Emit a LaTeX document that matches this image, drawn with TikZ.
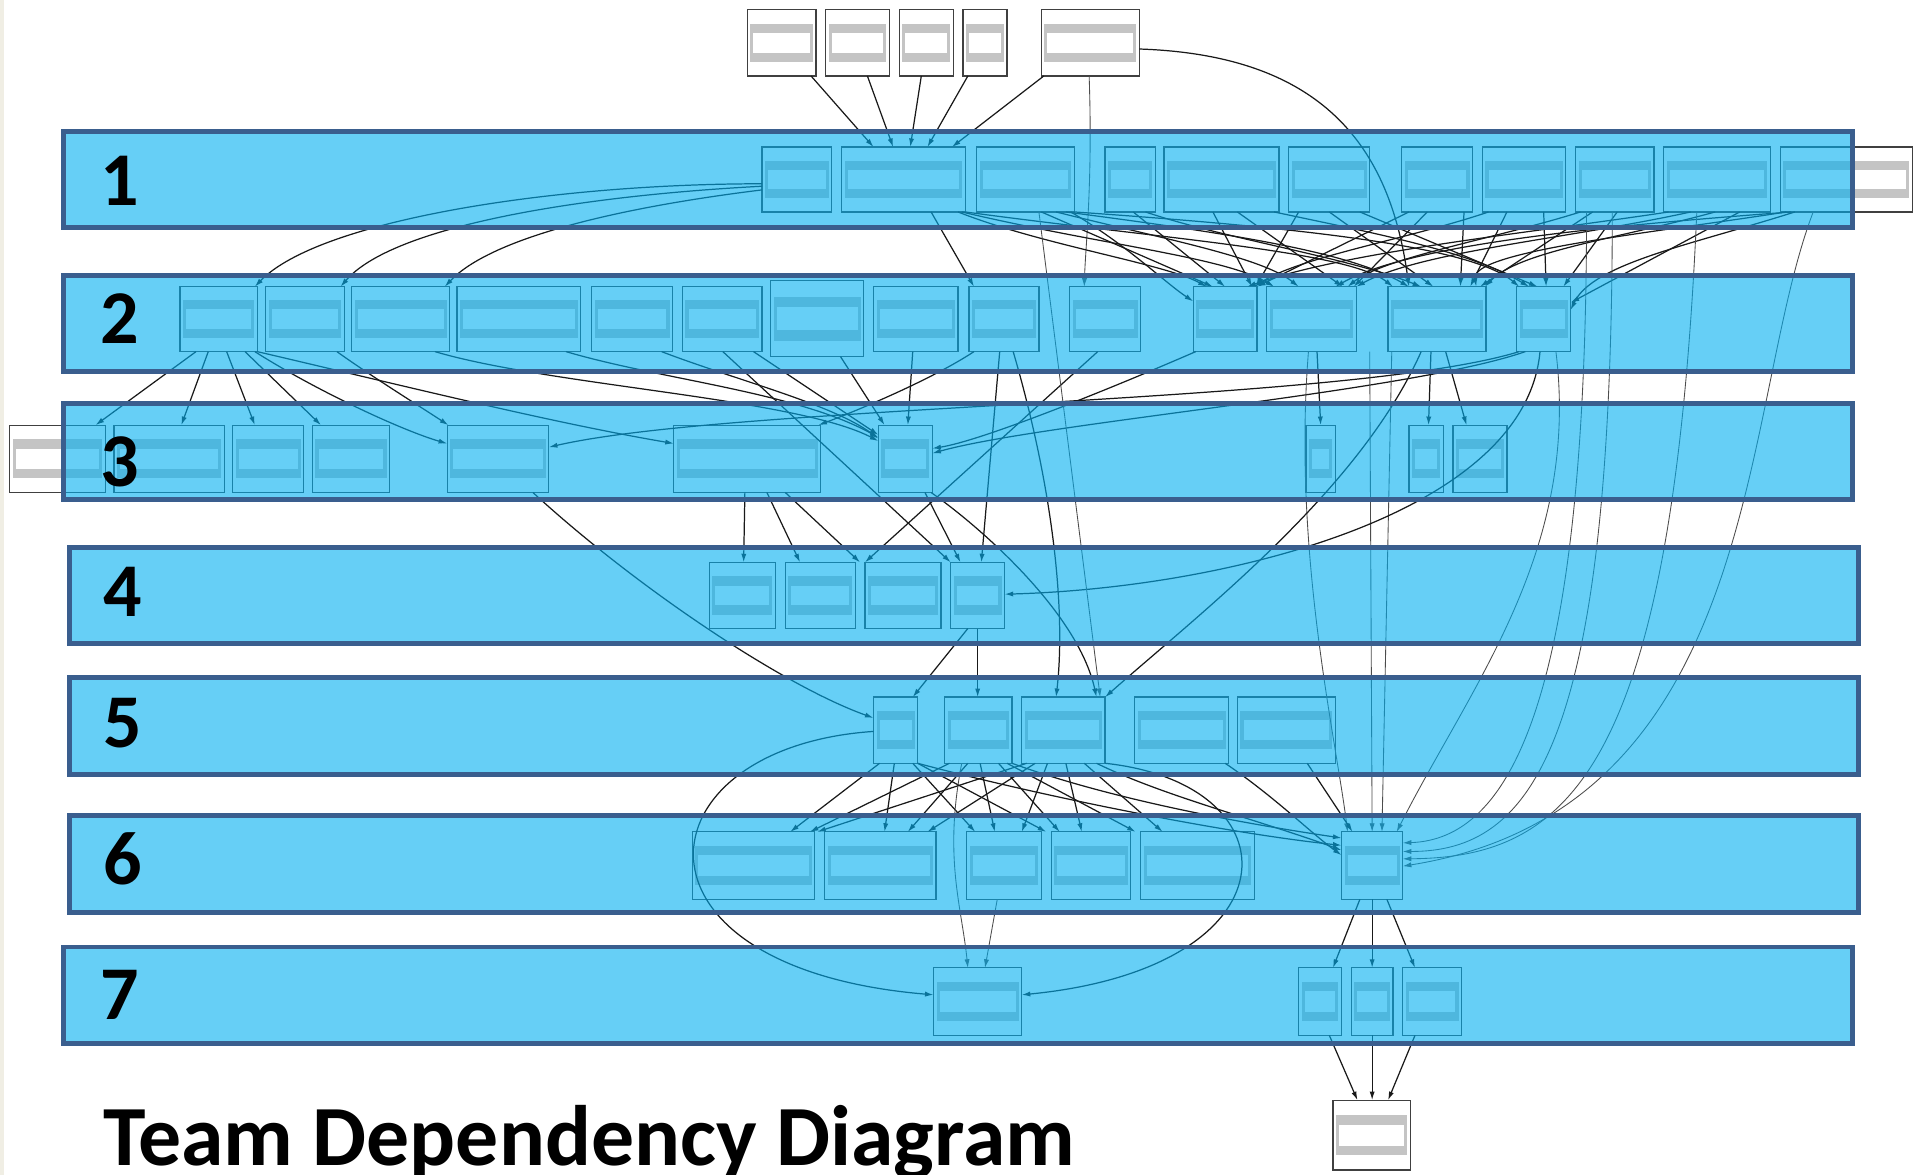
\documentclass[tikz,border=0pt]{standalone}
\usepackage{fontspec}
\setmainfont{Carlito}
\usetikzlibrary{arrows.meta,calc}
\definecolor{bandfill}{RGB}{0,175,240}
\definecolor{bandline}{RGB}{58,94,142}
\definecolor{barg}{RGB}{196,196,196}
\definecolor{leftstrip}{RGB}{240,238,228}
\tikzset{
 tbox/.style={draw=black!75, line width=1pt, fill=white, inner sep=0pt, outer sep=0pt, rectangle},
 band/.style={draw=bandline, line width=4pt, fill=bandfill, fill opacity=0.6, draw opacity=1, inner sep=0pt, outer sep=0pt, rectangle},
 dep/.style={draw=black!90, line width=1pt, -{Latex[length=7pt,width=4.2pt]}},
 depl/.style={draw=black!70, line width=0.7pt, -{Latex[length=7pt,width=4.2pt]}},
 num/.style={font=\fontsize{62}{62}\selectfont\bfseries, inner sep=0pt, anchor=west, text=black},
 ttl/.style={font=\fontsize{70}{70}\selectfont\bfseries, inner sep=0pt, anchor=base west, text=black}
}
\newcommand\mknode[5]{%
  \node[tbox, minimum width={(#3-(#2))*1pt}, minimum height={(#5-(#4))*1pt}] (#1) at ({(#2+#3)/2},{(#4+#5)/2}) {};
  \fill[barg] ({#2+2.5},{#4+0.21*(#5-#4)}) rectangle ({#3-2.5},{#5-0.21*(#5-#4)});
  \fill[white] ({#2+5},{#4+0.35*(#5-#4)}) rectangle ({#3-5},{#5-0.35*(#5-#4)});
}
\newcommand\mkband[5]{%
  \node[band, minimum width={(#3-(#2))*1pt}, minimum height={(#5-(#4))*1pt}] (#1) at ({(#2+#3)/2},{(#4+#5)/2}) {};
}
\begin{document}
\begin{tikzpicture}[x=1pt,y=-1pt]
\useasboundingbox (0,0) rectangle (1568,959);
\fill[white] (0,0) rectangle (1568,959);
\fill[leftstrip] (0,0) rectangle (3,959);
% top nodes
\mknode{t1}{610}{666}{8}{62}
\mknode{t2}{674}{726}{8}{62}
\mknode{t3}{734}{778}{8}{62}
\mknode{t4}{786}{822}{8}{62}
\mknode{t5}{850}{930}{8}{62}
% band 1 nodes
\mknode{a1}{622}{679}{120}{173}
\mknode{b1}{687}{788}{120}{173}
\mknode{c1}{797}{877}{120}{173}
\mknode{d1}{902}{943}{120}{173}
\mknode{e1}{950}{1044}{120}{173}
\mknode{f1}{1052}{1118}{120}{173}
\mknode{g1}{1144}{1202}{120}{173}
\mknode{h1}{1210}{1278}{120}{173}
\mknode{i1}{1286}{1350}{120}{173}
\mknode{j1}{1358}{1445}{120}{173}
\mknode{k1}{1453}{1561}{120}{173}
% band 2 nodes
\mknode{a2}{147}{210}{234}{287}
\mknode{b2}{217}{281}{234}{287}
\mknode{c2}{287}{367}{234}{287}
\mknode{d2}{373}{474}{234}{287}
\mknode{e2}{483}{549}{234}{287}
\mknode{f2}{557}{622}{234}{287}
\mknode{g2}{629}{705}{229}{291}
\mknode{h2}{713}{782}{234}{287}
\mknode{i2}{791}{848}{234}{287}
\mknode{j2}{873}{931}{234}{287}
\mknode{k2}{974}{1026}{234}{287}
\mknode{l2}{1034}{1107}{234}{287}
\mknode{m2}{1133}{1213}{234}{287}
\mknode{n2}{1238}{1282}{234}{287}
% band 3 nodes
\mknode{L3}{8}{86}{347}{402}
\mknode{a3}{93}{183}{347}{402}
\mknode{b3}{190}{248}{347}{402}
\mknode{c3}{255}{318}{347}{402}
\mknode{d3}{365}{448}{347}{402}
\mknode{e3}{550}{670}{347}{402}
\mknode{f3}{717}{761}{347}{402}
\mknode{g3}{1066}{1090}{347}{402}
\mknode{h3}{1150}{1178}{347}{402}
\mknode{i3}{1186}{1230}{347}{402}
% band 4 nodes
\mknode{a4}{579}{633}{459}{513}
\mknode{b4}{641}{698}{459}{513}
\mknode{c4}{706}{768}{459}{513}
\mknode{d4}{776}{820}{459}{513}
% band 5 nodes
\mknode{a5}{713}{749}{569}{623}
\mknode{b5}{771}{826}{569}{623}
\mknode{c5}{834}{902}{569}{623}
\mknode{d5}{926}{1003}{569}{623}
\mknode{e5}{1010}{1090}{569}{623}
% band 6 nodes
\mknode{a6}{565}{665}{679}{734}
\mknode{b6}{673}{764}{679}{734}
\mknode{c6}{789}{850}{679}{734}
\mknode{d6}{858}{923}{679}{734}
\mknode{e6}{931}{1024}{679}{734}
\mknode{f6}{1095}{1145}{679}{734}
% band 7 nodes
\mknode{a7}{762}{834}{790}{845}
\mknode{b7}{1060}{1095}{790}{845}
\mknode{c7}{1103}{1137}{790}{845}
\mknode{d7}{1145}{1193}{790}{845}
% bottom node
\mknode{z}{1088}{1151}{898}{955}

% ---- connectors ----
% top -> band 1
\draw[dep] (t1.south -| 662,0) -- (b1.north -| 713,0);
\draw[dep] (t2.south -| 708,0) -- (b1.north -| 729,0);
\draw[dep] (t3.south -| 752,0) -- (b1.north -| 743,0);
\draw[dep] (t4.south -| 790,0) -- (b1.north -| 757,0);
\draw[dep] (t5.south -| 852,0) -- (b1.north -| 777,0);
\draw[depl] (t5.south -| 889,0) .. controls (892,150) and (886,200) .. (j2.north -| 885,0);
\draw[dep] (t5.east |- 0,40) .. controls (1080,45) and (1135,120) .. (m2.north -| 1150,0);
% a1 -> left band 2
\draw[dep] (a1.west |- 0,150) .. controls (450,150) and (260,180) .. (a2.north -| 208,0);
\draw[dep] (a1.west |- 0,152) .. controls (470,160) and (320,185) .. (b2.north -| 278,0);
\draw[dep] (a1.west |- 0,155) .. controls (500,170) and (400,195) .. (c2.north -| 363,0);
% band 1 -> band 2 cluster
\draw[dep] (b1.south -| 760,0) -- (i2.north -| 795,0);
\draw[dep] (b1.south -| 782,0) .. controls (850,200) and (950,215) .. (k2.north -| 985,0);
\draw[dep] (b1.south -| 785,0) .. controls (900,200) and (1000,210) .. (l2.north -| 1040,0);
\draw[dep] (b1.south -| 788,0) .. controls (950,195) and (1100,205) .. (m2.north -| 1137,0);
\draw[dep] (c1.south -| 850,0) -- (k2.north -| 990,0);
\draw[dep] (c1.south -| 862,0) .. controls (950,195) and (1030,210) .. (l2.north -| 1060,0);
\draw[dep] (c1.south -| 870,0) .. controls (1000,190) and (1100,205) .. (m2.north -| 1150,0);
\draw[dep] (c1.south -| 877,0) .. controls (1050,185) and (1200,200) .. (n2.north -| 1240,0);
\draw[dep] (c1.south -| 874,0) .. controls (920,200) and (950,230) .. (k2.west |- 0,246);
\draw[dep] (d1.south -| 925,0) -- (k2.north -| 1000,0);
\draw[dep] (d1.south -| 935,0) .. controls (1000,195) and (1100,210) .. (m2.north -| 1160,0);
\draw[dep] (e1.south -| 990,0) -- (k2.north -| 1022,0);
\draw[dep] (e1.south -| 1010,0) -- (l2.north -| 1096,0);
\draw[dep] (e1.south -| 1040,0) .. controls (1120,190) and (1200,205) .. (n2.north -| 1248,0);
\draw[dep] (f1.south -| 1060,0) -- (k2.north -| 1025,0);
\draw[dep] (f1.south -| 1085,0) -- (m2.north -| 1170,0);
\draw[dep] (f1.south -| 1110,0) -- (n2.north -| 1255,0);
\draw[dep] (g1.south -| 1150,0) -- (k2.north -| 1026,0);
\draw[dep] (g1.south -| 1165,0) -- (l2.north -| 1105,0);
\draw[dep] (g1.south -| 1195,0) -- (m2.north -| 1192,0);
\draw[dep] (h1.south -| 1215,0) .. controls (1150,195) and (1060,210) .. (k2.north -| 1024,0);
\draw[dep] (h1.south -| 1230,0) -- (m2.north -| 1200,0);
\draw[dep] (h1.south -| 1260,0) -- (n2.north -| 1262,0);
\draw[dep] (i1.south -| 1290,0) .. controls (1220,195) and (1130,210) .. (l2.north -| 1100,0);
\draw[dep] (i1.south -| 1300,0) -- (m2.north -| 1208,0);
\draw[dep] (i1.south -| 1320,0) -- (n2.north -| 1276,0);
\draw[dep] (j1.south -| 1362,0) .. controls (1250,190) and (1100,205) .. (k2.north -| 1018,0);
\draw[dep] (j1.south -| 1380,0) .. controls (1280,195) and (1160,205) .. (l2.north -| 1107,0);
\draw[dep] (j1.south -| 1400,0) .. controls (1320,195) and (1240,205) .. (m2.north -| 1212,0);
\draw[dep] (j1.south -| 1420,0) -- (n2.east |- 0,247);
\draw[dep] (k1.south -| 1458,0) .. controls (1350,190) and (1200,205) .. (m2.north -| 1205,0);
\draw[dep] (k1.south -| 1465,0) .. controls (1380,200) and (1300,215) .. (n2.east |- 0,253);
\draw[dep] (k1.south -| 1462,0) .. controls (1300,185) and (1150,200) .. (l2.north -| 1090,0);
% band 2 -> band 3 (left)
\draw[dep] (a2.south -| 160,0) -- (L3.north -| 78,0);
\draw[dep] (a2.south -| 170,0) -- (a3.north -| 148,0);
\draw[dep] (a2.south -| 185,0) -- (b3.north -| 208,0);
\draw[dep] (a2.south -| 200,0) -- (c3.north -| 262,0);
\draw[dep] (a2.south -| 208,0) .. controls (260,320) and (330,352) .. (d3.west |- 0,362);
\draw[dep] (a2.south -| 210,0) .. controls (330,315) and (450,345) .. (e3.west |- 0,362);
\draw[dep] (b2.south -| 275,0) .. controls (300,305) and (340,330) .. (d3.north -| 366,0);
\draw[dep] (c2.south -| 355,0) .. controls (450,315) and (650,325) .. (f3.west |- 0,360);
\draw[dep] (d2.south -| 462,0) .. controls (540,310) and (650,320) .. (f3.west |- 0,357);
\draw[dep] (e2.south -| 540,0) .. controls (600,310) and (680,330) .. (f3.west |- 0,358);
\draw[dep] (f2.south -| 615,0) -- (f3.west |- 0,355);
\draw[dep] (f2.south -| 590,0) -- (d4.north -| 776,0);
\draw[dep] (g2.south -| 686,0) -- (f3.north -| 722,0);
\draw[dep] (h2.south -| 745,0) -- (f3.north -| 741,0);
\draw[dep] (i2.south -| 795,0) .. controls (760,310) and (700,335) .. (e3.north -| 668,0);
\draw[dep] (i2.south -| 816,0) -- (d4.north -| 801,0);
\draw[dep] (i2.south -| 827,0) .. controls (860,400) and (870,500) .. (c5.north -| 862,0);
\draw[dep] (j2.south -| 896,0) -- (c4.north -| 706,0);
\draw[dep] (k2.south -| 976,0) .. controls (900,320) and (800,360) .. (f3.east |- 0,366);
\draw[dep] (n2.south -| 1245,0) .. controls (1150,320) and (850,345) .. (f3.east |- 0,370);
\draw[dep] (n2.south -| 1240,0) .. controls (1100,330) and (600,330) .. (d3.east |- 0,365);
\draw[dep] (l2.south -| 1075,0) -- (g3.north -| 1078,0);
\draw[depl] (l2.south -| 1068,0) .. controls (1055,450) and (1090,600) .. (f6.north -| 1100,0);
\draw[dep] (m2.south -| 1168,0) -- (h3.north -| 1166,0);
\draw[dep] (m2.south -| 1180,0) -- (i3.north -| 1197,0);
\draw[dep] (m2.south -| 1160,0) .. controls (1110,400) and (980,500) .. (c5.north -| 902,0);
\draw[depl] (m2.south -| 1118,0) -- (f6.north -| 1120,0);
\draw[depl] (m2.south -| 1136,0) -- (f6.north -| 1128,0);
\draw[dep] (n2.south -| 1257,0) .. controls (1245,420) and (1000,480) .. (d4.east |- 0,485);
\draw[depl] (n2.south -| 1270,0) .. controls (1290,450) and (1200,560) .. (f6.north -| 1140,0);
\draw[depl] (c1.south -| 848,0) -- (c5.north -| 898,0);
% long right-side connectors to f6
\draw[depl] (i1.south -| 1295,0) .. controls (1295,580) and (1230,685) .. (f6.east |- 0,688);
\draw[depl] (i1.south -| 1316,0) .. controls (1316,610) and (1250,695) .. (f6.east |- 0,695);
\draw[depl] (j1.south -| 1385,0) .. controls (1365,630) and (1280,700) .. (f6.east |- 0,701);
\draw[depl] (k1.south -| 1480,0) .. controls (1420,330) and (1440,660) .. (f6.east |- 0,707);
% band 3 -> band 4 / 5
\draw[dep] (e3.south -| 608,0) -- (a4.north -| 607,0);
\draw[dep] (e3.south -| 626,0) -- (b4.north -| 653,0);
\draw[dep] (e3.south -| 641,0) -- (c4.north -| 702,0);
\draw[dep] (f3.south -| 755,0) -- (d4.north -| 784,0);
\draw[dep] (f3.south -| 760,0) .. controls (800,430) and (880,500) .. (c5.north -| 895,0);
\draw[dep] (d3.south -| 435,0) .. controls (520,480) and (640,560) .. (a5.west |- 0,586);
% band 4 -> band 5
\draw[dep] (d4.south -| 790,0) -- (a5.north -| 745,0);
\draw[dep] (d4.south -| 798,0) -- (b5.north -| 798,0);
% band 5 -> band 6
\draw[dep] (a5.south -| 718,0) -- (a6.north -| 645,0);
\draw[dep] (a5.south -| 730,0) -- (b6.north -| 722,0);
\draw[dep] (a5.south -| 745,0) -- (c6.north -| 796,0);
\draw[dep] (a5.south -| 749,0) -- (d6.north -| 854,0);
\draw[dep] (a5.south -| 749,0) .. controls (850,650) and (1000,680) .. (f6.west |- 0,690);
\draw[dep] (a5.west |- 0,597) .. controls (520,610) and (500,790) .. (a7.west |- 0,812);
\draw[dep] (b5.south -| 775,0) -- (a6.north -| 661,0);
\draw[dep] (b5.south -| 790,0) -- (b6.north -| 741,0);
\draw[dep] (b5.south -| 800,0) -- (c6.north -| 812,0);
\draw[dep] (b5.south -| 815,0) -- (d6.north -| 865,0);
\draw[dep] (b5.south -| 822,0) -- (e6.north -| 927,0);
\draw[dep] (b5.south -| 826,0) .. controls (900,650) and (1000,670) .. (f6.west |- 0,684);
\draw[depl] (b5.south -| 785,0) .. controls (770,700) and (785,740) .. (a7.north -| 790,0);
\draw[dep] (c5.south -| 838,0) -- (a6.north -| 667,0);
\draw[dep] (c5.south -| 845,0) -- (b6.north -| 757,0);
\draw[dep] (c5.south -| 855,0) -- (c6.north -| 834,0);
\draw[dep] (c5.south -| 870,0) -- (d6.north -| 883,0);
\draw[dep] (c5.south -| 885,0) -- (e6.north -| 949,0);
\draw[dep] (c5.south -| 895,0) .. controls (950,650) and (1030,670) .. (f6.west |- 0,694);
\draw[dep] (c5.south -| 902,0) .. controls (1060,640) and (1060,790) .. (a7.east |- 0,812);
\draw[dep] (d5.south -| 1000,0) .. controls (1040,650) and (1070,680) .. (f6.west |- 0,698);
\draw[dep] (e5.south -| 1067,0) -- (f6.north -| 1104,0);
% band 6 -> band 7
\draw[depl] (c6.south -| 814,0) -- (a7.north -| 804,0);
\draw[dep] (f6.south -| 1110,0) -- (b7.north -| 1088,0);
\draw[dep] (f6.south -| 1120,0) -- (c7.north -| 1120,0);
\draw[dep] (f6.south -| 1132,0) -- (d7.north -| 1155,0);
% band 7 -> bottom
\draw[dep] (b7.south -| 1085,0) -- (z.north -| 1108,0);
\draw[dep] (c7.south -| 1120,0) -- (z.north -| 1120,0);
\draw[dep] (d7.south -| 1155,0) -- (z.north -| 1133,0);

% ---- bands (translucent, on top) ----
\mkband{B1}{52}{1512}{107}{186}
\mkband{B2}{52}{1512}{225}{303}
\mkband{B3}{52}{1512}{329}{408}
\mkband{B4}{57}{1517}{447}{525}
\mkband{B5}{57}{1517}{553}{632}
\mkband{B6}{57}{1517}{666}{745}
\mkband{B7}{52}{1512}{773}{852}
% band numbers
\node[num] (n1) at (82,148) {1};
\node[num] (n2l) at (82,260) {2};
\node[num] (n3) at (82,377) {3};
\node[num] (n4) at (84,483) {4};
\node[num] (n5) at (84,590) {5};
\node[num] (n6) at (84,701) {6};
\node[num] (n7) at (82,812) {7};
% title
\node[ttl] (title) at (84,951) {Team Dependency Diagram};
\end{tikzpicture}
\end{document}
